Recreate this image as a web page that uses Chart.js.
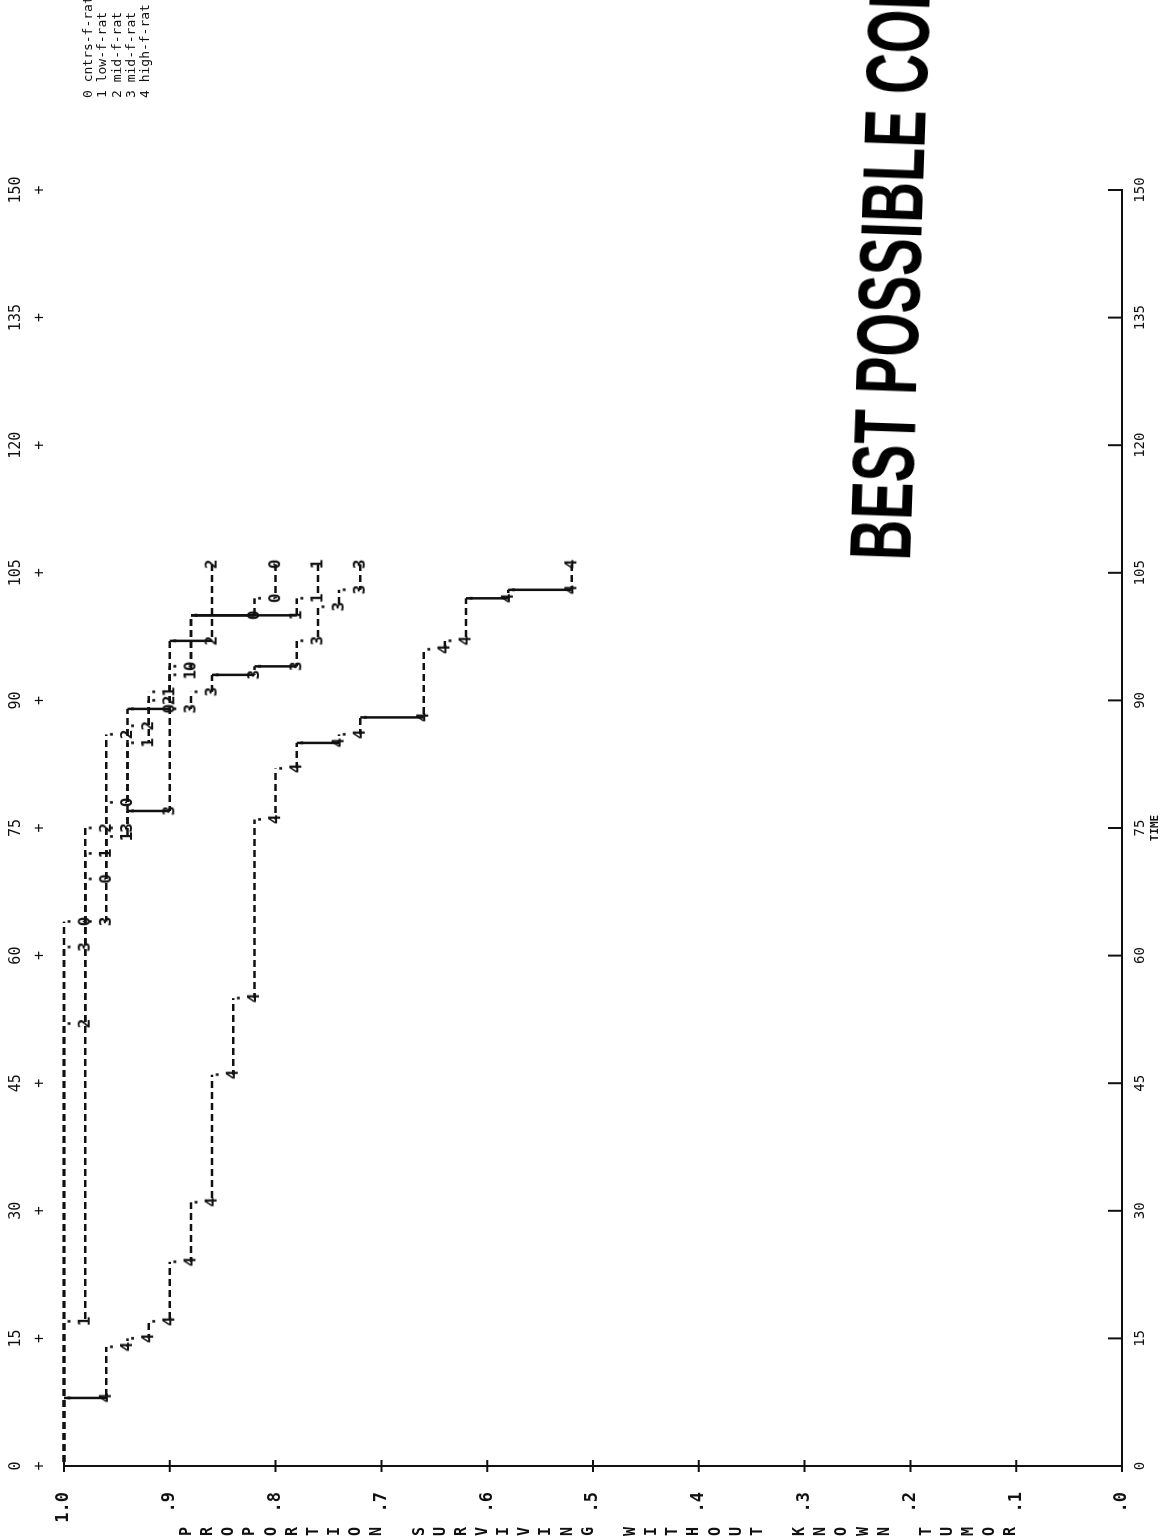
<!DOCTYPE html>
<html>
<head>
<meta charset="utf-8">
<title>Proportion surviving without known tumor</title>
<script src="https://cdn.jsdelivr.net/npm/chart.js@4.4.1/dist/chart.umd.min.js"></script>
<style>
  html, body { margin: 0; padding: 0; background: #fff; }
  body { width: 1162px; height: 1539px; overflow: hidden; position: relative; }
  /* the printout is drawn upright, then turned a quarter left like the scan */
  #page { position: absolute; left: 0; top: 0; width: 1539px; height: 1162px; overflow: hidden;
          transform-origin: 0 0; transform: translate(0, 1539px) rotate(-90deg); background: #fff; }
  #chart { position: absolute; left: 0; top: 0; }
  #ytitle { position: absolute; left: 0; top: 176px; width: 15px; color: #111;
            font: bold 15px "DejaVu Sans Mono", monospace; text-align: center; }
  #ytitle div { height: 21.15px; line-height: 21.15px; }
  #legend { position: absolute; left: 1441px; top: 81px; color: #111; white-space: pre;
            font: 13px "DejaVu Sans Mono", monospace; line-height: 14.3px; }
  #stamp { position: absolute; left: 979px; top: 836px; white-space: nowrap; color: #000;
           font: bold 88px "Liberation Sans", Arial, sans-serif; line-height: 1;
           transform-origin: 0 50%; transform: rotate(2deg) scaleX(0.64); }
</style>
</head>
<body>
<div id="page">
  <canvas id="chart" width="1539" height="1162"></canvas>
  <div id="ytitle"></div>
  <div id="legend"></div>
  <div id="stamp">BEST POSSIBLE COPY</div>
</div>
<script>
// groups as printed in the key
const seriesCodes = ['0', '1', '2', '3', '4'];
const seriesNames = ['cntrs-f-rat', 'low-f-rat', 'mid-f-rat', 'mid-f-rat', 'high-f-rat'];

// event times and the proportion left after each event
const cntrsTimes = [64, 69, 78, 89, 94, 100, 102];
const cntrsSurv  = [0.98, 0.96, 0.94, 0.90, 0.88, 0.82, 0.80];

const lowTimes = [17, 72, 74, 85, 91, 93, 100, 102];
const lowSurv  = [0.98, 0.96, 0.94, 0.92, 0.90, 0.88, 0.78, 0.76];

const midTimes = [52, 75, 86, 87, 90, 97];
const midSurv  = [0.98, 0.96, 0.94, 0.92, 0.90, 0.86];

const mid3Times = [61, 64, 75, 77, 89, 91, 93, 94, 97, 101, 103];
const mid3Surv  = [0.98, 0.96, 0.94, 0.90, 0.88, 0.86, 0.82, 0.78, 0.76, 0.74, 0.72];

const highTimes = [8, 14, 15, 17, 24, 31, 46, 55, 76, 82, 85, 86, 88, 96, 97, 102, 103];
const highSurv  = [0.96, 0.94, 0.92, 0.90, 0.88, 0.86, 0.84, 0.82, 0.80, 0.78, 0.74, 0.72, 0.66, 0.64, 0.62, 0.58, 0.52];

const lastTimes = [106, 106, 106, 106, 106];

// axes
const timeTicks = [0, 15, 30, 45, 60, 75, 90, 105, 120, 135, 150];
const propTicks = [0, 0.1, 0.2, 0.3, 0.4, 0.5, 0.6, 0.7, 0.8, 0.9, 1.0];
const propTickLabels = ['.0', '.1', '.2', '.3', '.4', '.5', '.6', '.7', '.8', '.9', '1.0'];
const yTitle = 'PROPORTION SURVIVING WITHOUT KNOWN TUMOR';
const xTitle = 'TIME';

const ink = '#111';
const allTimes = [cntrsTimes, lowTimes, midTimes, mid3Times, highTimes];
const allSurv = [cntrsSurv, lowSurv, midSurv, mid3Surv, highSurv];

// printer characters used as point marks
function charMark(ch, dy) {
    const c = document.createElement('canvas');
    c.width = 13;
    c.height = 19;
    const g = c.getContext('2d');
    g.font = 'bold 16px "DejaVu Sans Mono", monospace';
    g.fillStyle = ink;
    g.textAlign = 'center';
    g.textBaseline = 'middle';
    g.fillText(ch, 6.5, 9.5 + dy);
    return c;
}
const dotMark = charMark('.', 2);

// step curve: flat run, then drop, digit at each new level
function stepPoints(times, surv, last) {
    let pts = [{x: 0, y: 1}];
    let prev = 1;
    times.forEach((t, i) => {
        pts.push({x: t, y: prev, dot: true});
        pts.push({x: t, y: surv[i], mark: true});
        prev = surv[i];
    });
    pts.push({x: last, y: prev, mark: true});
    return pts;
}

const isRun = ctx => Math.abs(ctx.p0.parsed.y - ctx.p1.parsed.y) < 1e-6;
const bigDrop = ctx => ctx.p0.parsed.y - ctx.p1.parsed.y > 0.03;

let datasets = [];
seriesCodes.forEach((code, i) => {
    const digit = charMark(code, 0);
    datasets.push({
        label: code + ' ' + seriesNames[i],
        data: stepPoints(allTimes[i], allSurv[i], lastTimes[i]),
        xAxisID: 'x',
        yAxisID: 'y',
        clip: 8,
        borderColor: ink,
        borderWidth: 2.5,
        pointStyle: ctx => (ctx.raw && ctx.raw.dot) ? dotMark : digit,
        pointRadius: ctx => (ctx.raw && (ctx.raw.mark || ctx.raw.dot)) ? 5 : 0,
        pointHoverRadius: 0,
        fill: false,
        tension: 0,
        segment: {
            borderDash: ctx => isRun(ctx) ? [7, 4] : [],
            borderDashOffset: ctx => isRun(ctx) ? (ctx.p0.x % 11) : 0,
            borderColor: ctx => (isRun(ctx) || bigDrop(ctx)) ? ink : 'rgba(0,0,0,0)'
        }
    });
});

// tick marks like the printout: inward on the time axis, crossing on the proportion axis
const axisMarks = {
    id: 'axisMarks',
    afterDraw(chart) {
        const g = chart.ctx;
        const xs = chart.scales.x;
        const ys = chart.scales.y;
        g.save();
        g.strokeStyle = ink;
        g.lineWidth = 2;
        g.beginPath();
        timeTicks.forEach(v => {
            const px = xs.getPixelForValue(v);
            g.moveTo(px, xs.top);
            g.lineTo(px, xs.top - 14);
        });
        propTicks.forEach(v => {
            const py = ys.getPixelForValue(v);
            g.moveTo(ys.right - 6, py);
            g.lineTo(ys.right + 6, py);
        });
        g.stroke();
        g.restore();
    }
};

// key and stacked axis title, as on the printout
document.getElementById('legend').textContent =
    seriesCodes.map((c, i) => c + ' ' + seriesNames[i]).join('\n');
const yt = document.getElementById('ytitle');
yTitle.split('').forEach(ch => {
    const d = document.createElement('div');
    d.textContent = ch === ' ' ? '\u00a0' : ch;
    yt.appendChild(d);
});

const monoFont = 'DejaVu Sans Mono';

new Chart(document.getElementById('chart'), {
    type: 'line',
    data: {datasets: datasets},
    plugins: [axisMarks],
    options: {
        responsive: false,
        animation: false,
        events: [],
        layout: {padding: {left: 0, top: 0, right: 190, bottom: 0}},
        plugins: {
            legend: {display: false},
            tooltip: {enabled: false}
        },
        scales: {
            x: {
                type: 'linear',
                position: 'bottom',
                min: 0,
                max: 150,
                afterBuildTicks: s => { s.ticks = timeTicks.map(v => ({value: v})); },
                afterFit: s => { s.height = 40; },
                grid: {drawOnChartArea: false, drawTicks: false},
                border: {display: true, color: ink, width: 2},
                ticks: {
                    color: ink, autoSkip: false, maxRotation: 0, padding: 10,
                    font: {family: monoFont, size: 14},
                    callback: v => String(v)
                },
                title: {
                    display: true, text: xTitle, color: ink,
                    font: {family: monoFont, size: 11, weight: 'bold'},
                    padding: {top: 0, bottom: 0}
                }
            },
            xTop: {
                type: 'linear',
                position: 'top',
                min: 0,
                max: 150,
                afterBuildTicks: s => { s.ticks = timeTicks.map(v => ({value: v})); },
                afterFit: s => { s.height = 64; },
                grid: {display: false, drawTicks: false},
                border: {display: false},
                ticks: {
                    color: ink, autoSkip: false, maxRotation: 0, padding: 12,
                    font: {family: monoFont, size: 15, lineHeight: 1.6},
                    callback: v => [String(v), '+']
                }
            },
            y: {
                type: 'linear',
                position: 'left',
                min: 0,
                max: 1,
                afterBuildTicks: s => { s.ticks = propTicks.map(v => ({value: v})); },
                afterFit: s => { s.width = 73; },
                grid: {drawOnChartArea: false, drawTicks: false},
                border: {display: true, color: ink, width: 2},
                ticks: {
                    color: ink, autoSkip: false, padding: 26,
                    font: {family: monoFont, size: 17, weight: 'bold'},
                    callback: (v, i) => propTickLabels[i]
                }
            }
        }
    }
});
</script>
</body>
</html>
